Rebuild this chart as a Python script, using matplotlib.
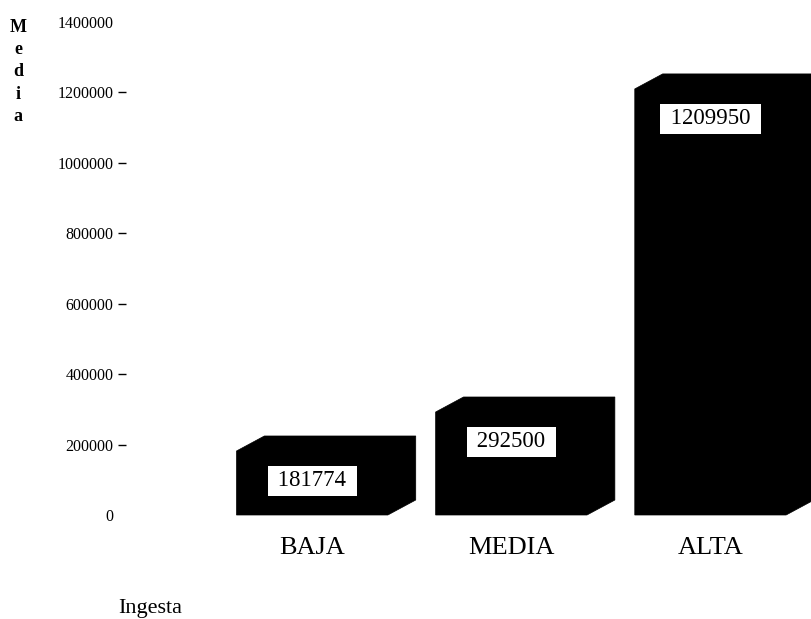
import matplotlib
matplotlib.use("Agg")
import matplotlib.pyplot as plt
from matplotlib.patches import Polygon

categories = ["BAJA", "MEDIA", "ALTA"]
values = [181774, 292500, 1209950]
y_ticks = [0, 200000, 400000, 600000, 800000, 1000000, 1200000, 1400000]
y_tick_labels = [str(v) for v in y_ticks]

SERIF = ["Liberation Serif", "DejaVu Serif"]
BAR_W = 0.76
DEPTH_X = 0.14
DEPTH_Y = 42600

fig = plt.figure(figsize=(8.12, 6.19), dpi=100)
ax = fig.add_axes([126 / 812, 104 / 619, 686 / 812, 493 / 619])
ax.set_xlim(-0.935, 2.51)
ax.set_ylim(0, 1400000)

xs = list(range(len(categories)))
bars = ax.bar(xs, values, width=BAR_W, color="black", clip_on=False, zorder=2)

# oblique depth of each bar -> solid black prism silhouette
for bar in bars:
    x0 = bar.get_x()
    x1 = x0 + bar.get_width()
    h = bar.get_height()
    pts = [(x0, 0), (x0, h), (x0 + DEPTH_X, h + DEPTH_Y),
           (x1 + DEPTH_X, h + DEPTH_Y), (x1 + DEPTH_X, DEPTH_Y), (x1, 0)]
    ax.add_patch(Polygon(pts, closed=True, facecolor="black", edgecolor="black",
                         lw=0.5, clip_on=False, zorder=2))

for x, v in zip(xs, values):
    ax.annotate(f" {v} ", xy=(x, v), xytext=(0, -30), textcoords="offset pixels",
                ha="center", va="center", fontsize=16.5, family=SERIF, color="black",
                bbox=dict(boxstyle="square,pad=0.2", facecolor="white", edgecolor="none"),
                zorder=3, annotation_clip=False)

ax.set_xticks(xs)
ax.set_xticklabels(categories, family=SERIF, fontsize=19)
ax.tick_params(axis="x", length=0, pad=16)

ax.set_yticks(y_ticks)
ax.set_yticklabels(y_tick_labels, family=SERIF, fontsize=11.5)
ax.tick_params(axis="y", length=6, width=1, pad=3)
ticks = ax.yaxis.get_major_ticks()
ticks[0].tick1line.set_visible(False)
ticks[-1].tick1line.set_visible(False)

for s in ax.spines.values():
    s.set_visible(False)

fig.text(18 / 812, 1 - 19 / 619, "M\ne\nd\ni\na", ha="center", va="top",
         fontsize=13, family=SERIF, fontweight="bold", linespacing=1.4)
fig.text(118 / 812, 1 - 613 / 619, "Ingesta", ha="left", va="baseline",
         fontsize=16, family=SERIF)

fig.savefig("out.png", dpi=100, facecolor="white")
